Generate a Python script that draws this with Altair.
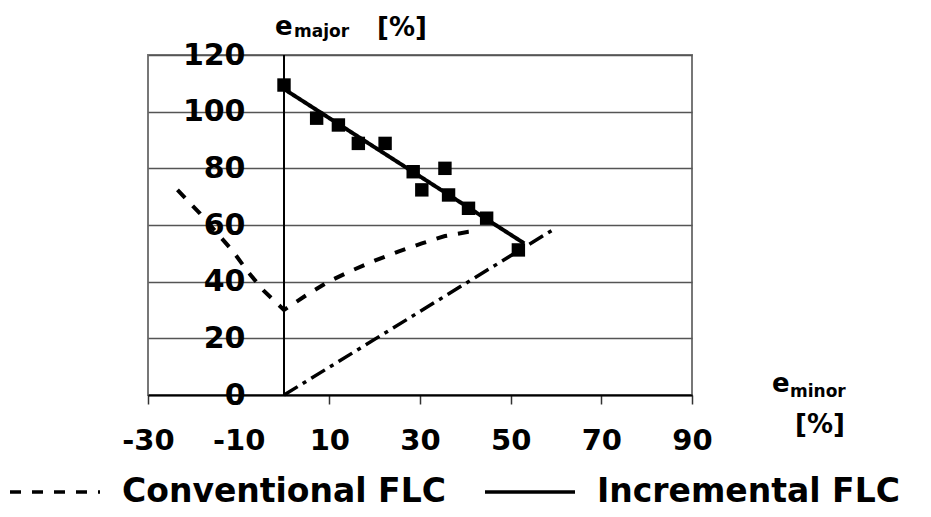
import altair as alt
import pandas as pd

# squares (Incremental FLC measured points)
sq_x = [0, 7.2, 12, 16.4, 22.3, 28.5, 30.4, 35.5, 36.3, 40.7, 44.7, 51.7]
sq_y = [109.4, 97.7, 95.3, 88.8, 88.8, 78.8, 72.4, 80, 70.6, 65.9, 62.4, 51.2]

# Conventional FLC (dashed curve)
conv_x = [-23.5, -18.5, -11.2, -8.2, -4.6, 0, 5, 9.8, 14.9, 20, 25.2, 30.4, 35.5, 40.7, 43]
conv_y = [72.4, 64, 50.6, 44, 37, 30, 35.3, 40, 43.9, 47.4, 50.6, 53.5, 56.1, 57.6, 58]

# Incremental FLC (solid fit)
incr_x = [0, 53]
incr_y = [108, 53.5]

# dash-dot strain path
dd_x = [0, 59]
dd_y = [0, 58]

x_ticks = [-30, -10, 10, 30, 50, 70, 90]
y_ticks = [0, 20, 40, 60, 80, 100, 120]

FONT = "DejaVu Sans"

xs = alt.Scale(domain=[-30, 90], nice=False)
ys = alt.Scale(domain=[0, 120], nice=False)

lines_df = pd.DataFrame({
    "x": conv_x + incr_x,
    "y": conv_y + incr_y,
    "series": ["Conventional FLC"] * len(conv_x) + ["Incremental FLC"] * len(incr_x),
    "order": list(range(len(conv_x))) + list(range(len(incr_x))),
})
sq_df = pd.DataFrame({"x": sq_x, "y": sq_y})
dd_df = pd.DataFrame({"x": dd_x, "y": dd_y, "order": list(range(len(dd_x)))})

xaxis = alt.Axis(values=x_ticks, title=None, grid=False, domainColor="black", domainWidth=2,
                 tickColor="#333", tickSize=9, tickWidth=1.5, labelPadding=22,
                 labelOverlap=False, labelBound=False, labelFlush=False,
                 labelExpr="'' + datum.value",
                 labelFont=FONT, labelFontWeight="bold", labelFontSize=29, labelColor="black")
yaxis = alt.Axis(values=y_ticks, title=None, grid=True, gridColor="#555", gridWidth=1.5,
                 domain=False, ticks=False, labelPadding=-97, labelAlign="right",
                 labelOverlap=False, labelBound=False, labelFlush=False,
                 labelFont=FONT, labelFontWeight="bold", labelFontSize=30, labelColor="black")

vline = alt.Chart(pd.DataFrame({"x": [0], "y": [0], "y2": [120]})).mark_rule(
    color="black", strokeWidth=2).encode(
    x=alt.X("x:Q", scale=xs, axis=xaxis),
    y=alt.Y("y:Q", scale=ys, axis=yaxis),
    y2="y2:Q")

lines = alt.Chart(lines_df).mark_line(strokeWidth=4, color="black").encode(
    x=alt.X("x:Q", scale=xs),
    y=alt.Y("y:Q", scale=ys),
    order="order:Q",
    strokeDash=alt.StrokeDash(
        "series:N",
        scale=alt.Scale(domain=["Conventional FLC", "Incremental FLC"], range=[[11, 11], [1, 0]]),
        legend=alt.Legend(title=None, orient="none", legendX=-140, legendY=390,
                          direction="horizontal", symbolType="stroke", symbolSize=8100,
                          symbolStrokeWidth=3.5, symbolStrokeColor="black",
                          labelFont=FONT, labelFontWeight="bold", labelFontSize=33,
                          labelLimit=1000,
                          labelColor="black", labelOffset=20, columnPadding=32, padding=0)),
)

dd = alt.Chart(dd_df).mark_line(strokeWidth=3.5, color="black", strokeDash=[16, 6, 4, 6]).encode(
    x=alt.X("x:Q", scale=xs),
    y=alt.Y("y:Q", scale=ys),
    order="order:Q",
)

squares = alt.Chart(sq_df).mark_square(size=180, color="black", opacity=1).encode(
    x=alt.X("x:Q", scale=xs),
    y=alt.Y("y:Q", scale=ys),
)

def label(text, x, y, size, align="left"):
    return alt.Chart(pd.DataFrame({"t": [text]})).mark_text(
        font=FONT, fontWeight="bold", fontSize=size, color="black",
        align=align, baseline="alphabetic").encode(
        x=alt.value(x), y=alt.value(y), text="t:N")

titles = [
    label("e", 127, -20, 26),
    label("major", 146, -18, 17),
    label("[%]", 229, -19, 26),
    label("e", 624, 337, 26),
    label("minor", 642, 342, 17),
    label("[%]", 672, 378, 26, align="center"),
]

chart = alt.layer(vline, lines, dd, squares, *titles).properties(
    width=544, height=340,
    autosize=alt.AutoSizeParams(type="none"),
    padding={"left": 140, "top": 47, "right": 230, "bottom": 114},
).configure_view(stroke="#777", strokeWidth=2)

chart.save("out.html", embed_options={"renderer": "svg", "actions": False})
